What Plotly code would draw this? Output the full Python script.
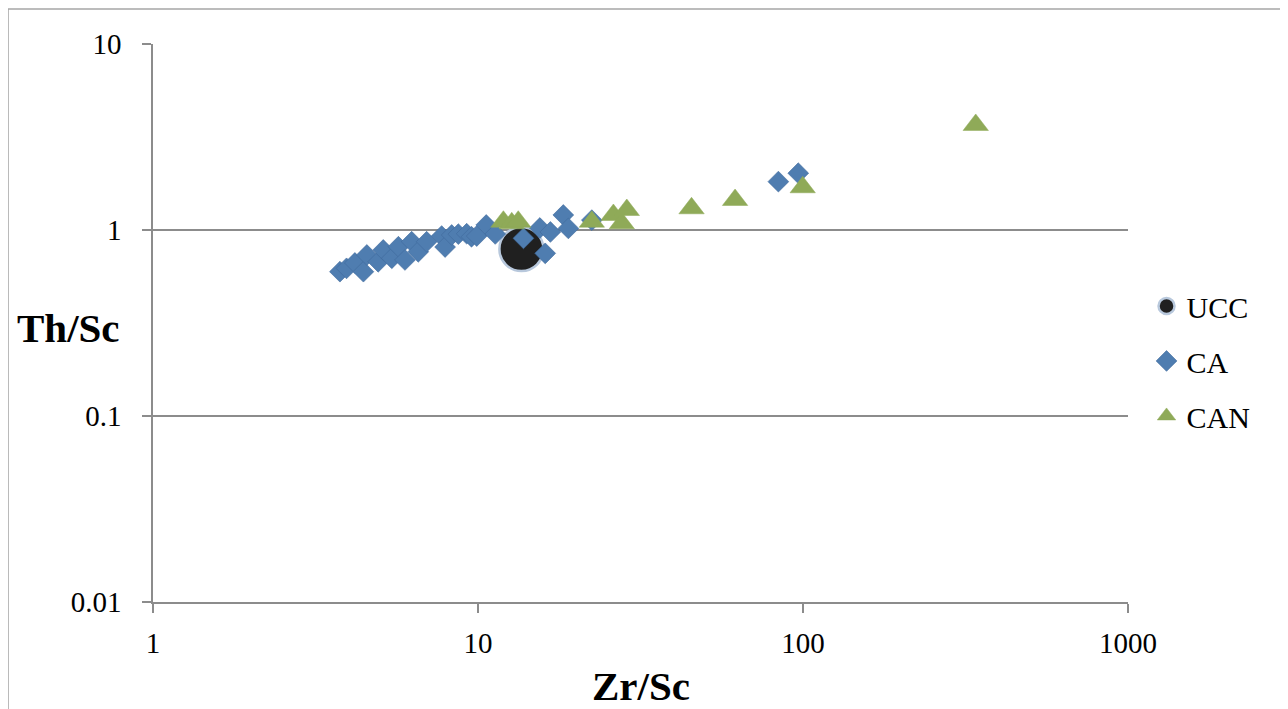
import plotly.graph_objects as go

# ---- data ----
ucc_x = [13.6]
ucc_y = [0.79]

ca_x = [3.76, 3.94, 4.18, 4.44, 4.55, 4.93, 5.11, 5.43, 5.69, 5.96, 6.25, 6.55, 6.95,
        7.73, 7.92, 8.30, 8.70, 9.23, 9.55, 9.91, 10.6, 11.3, 13.8, 16.1, 15.5, 16.7,
        18.3, 18.97, 22.4, 84.0, 96.7]
ca_y = [0.597, 0.622, 0.665, 0.597, 0.734, 0.675, 0.781, 0.705, 0.813, 0.690, 0.865, 0.764, 0.865,
        0.928, 0.810, 0.940, 0.950, 0.955, 0.920, 0.928, 1.064, 0.952, 0.902, 0.749, 1.025, 0.976,
        1.204, 1.020, 1.130, 1.82, 2.02]

can_x = [11.97, 12.7, 13.3, 22.4, 26.1, 27.7, 28.7, 45.4, 61.8, 99.8, 340.0]
can_y = [1.108, 1.086, 1.108, 1.108, 1.204, 1.086, 1.281, 1.308, 1.45, 1.697, 3.67]

x_ticks = [1, 10, 100, 1000]
x_ticktext = ["1", "10", "100", "1000"]
y_ticks = [0.01, 0.1, 1, 10]
y_ticktext = ["0.01", "0.1", "1", "10"]

FONT = "Liberation Serif, Times New Roman, serif"
GRID = "#8c8c8c"

fig = go.Figure()
fig.add_trace(go.Scatter(
    x=ucc_x, y=ucc_y, mode="markers", name="UCC", legendgroup="a",
    marker=dict(symbol="circle", size=44, color="#202020",
                line=dict(color="#b8c8dc", width=2.5))))
fig.add_trace(go.Scatter(
    x=ca_x, y=ca_y, mode="markers", name="CA", legendgroup="b",
    marker=dict(symbol="diamond", size=16, color="#4f7db0",
                line=dict(color="#3f6a9c", width=0.6))))
fig.add_trace(go.Scatter(
    x=can_x, y=can_y, mode="markers", name="CAN", legendgroup="c",
    marker=dict(symbol="triangle-up", size=22, color="#8faa58",
                line=dict(color="#8faa58", width=0.5))))

fig.update_layout(
    width=1280, height=701,
    margin=dict(l=145, r=160, t=36, b=107),
    paper_bgcolor="white", plot_bgcolor="white",
    font=dict(family=FONT, color="black", size=29),
    showlegend=True,
    legend=dict(x=1.019, xanchor="left", y=0.432, yanchor="middle",
                font=dict(family=FONT, size=30, color="black"),
                traceorder="grouped", tracegroupgap=13,
                itemsizing="trace", bgcolor="rgba(0,0,0,0)"),
    xaxis=dict(type="log", range=[0, 3], tickvals=x_ticks, ticktext=x_ticktext,
               showgrid=False, showline=True, linecolor=GRID, linewidth=1.5,
               ticks="outside", ticklen=9, tickcolor=GRID, tickwidth=1.5,
               ticklabelstandoff=5,
               tickfont=dict(family=FONT, size=29, color="black"), zeroline=False),
    yaxis=dict(type="log", range=[-2, 1], tickvals=y_ticks, ticktext=y_ticktext,
               showgrid=True, gridcolor=GRID, gridwidth=1.5,
               showline=True, linecolor=GRID, linewidth=1.5,
               ticks="outside", ticklen=9, tickcolor=GRID, tickwidth=1.5,
               ticklabelstandoff=15,
               tickfont=dict(family=FONT, size=29, color="black"), zeroline=False),
    shapes=[dict(type="rect", xref="paper", yref="paper",
                 x0=-0.1487, x1=1.163, y0=-0.21, y1=1.0627,
                 line=dict(color="#a6a6a6", width=1.5), layer="below")],
    annotations=[
        dict(text="<b>Th/Sc</b>", xref="paper", yref="paper",
             x=(68 - 153) / 975, y=(602 - 328) / 558, showarrow=False,
             xanchor="center", yanchor="middle",
             font=dict(family=FONT, size=41, color="black")),
        dict(text="<b>Zr/Sc</b>", xref="paper", yref="paper",
             x=0.5, y=(602 - 686) / 558, showarrow=False,
             xanchor="center", yanchor="middle",
             font=dict(family=FONT, size=41, color="black")),
    ],
)

fig.write_html("out.html")
